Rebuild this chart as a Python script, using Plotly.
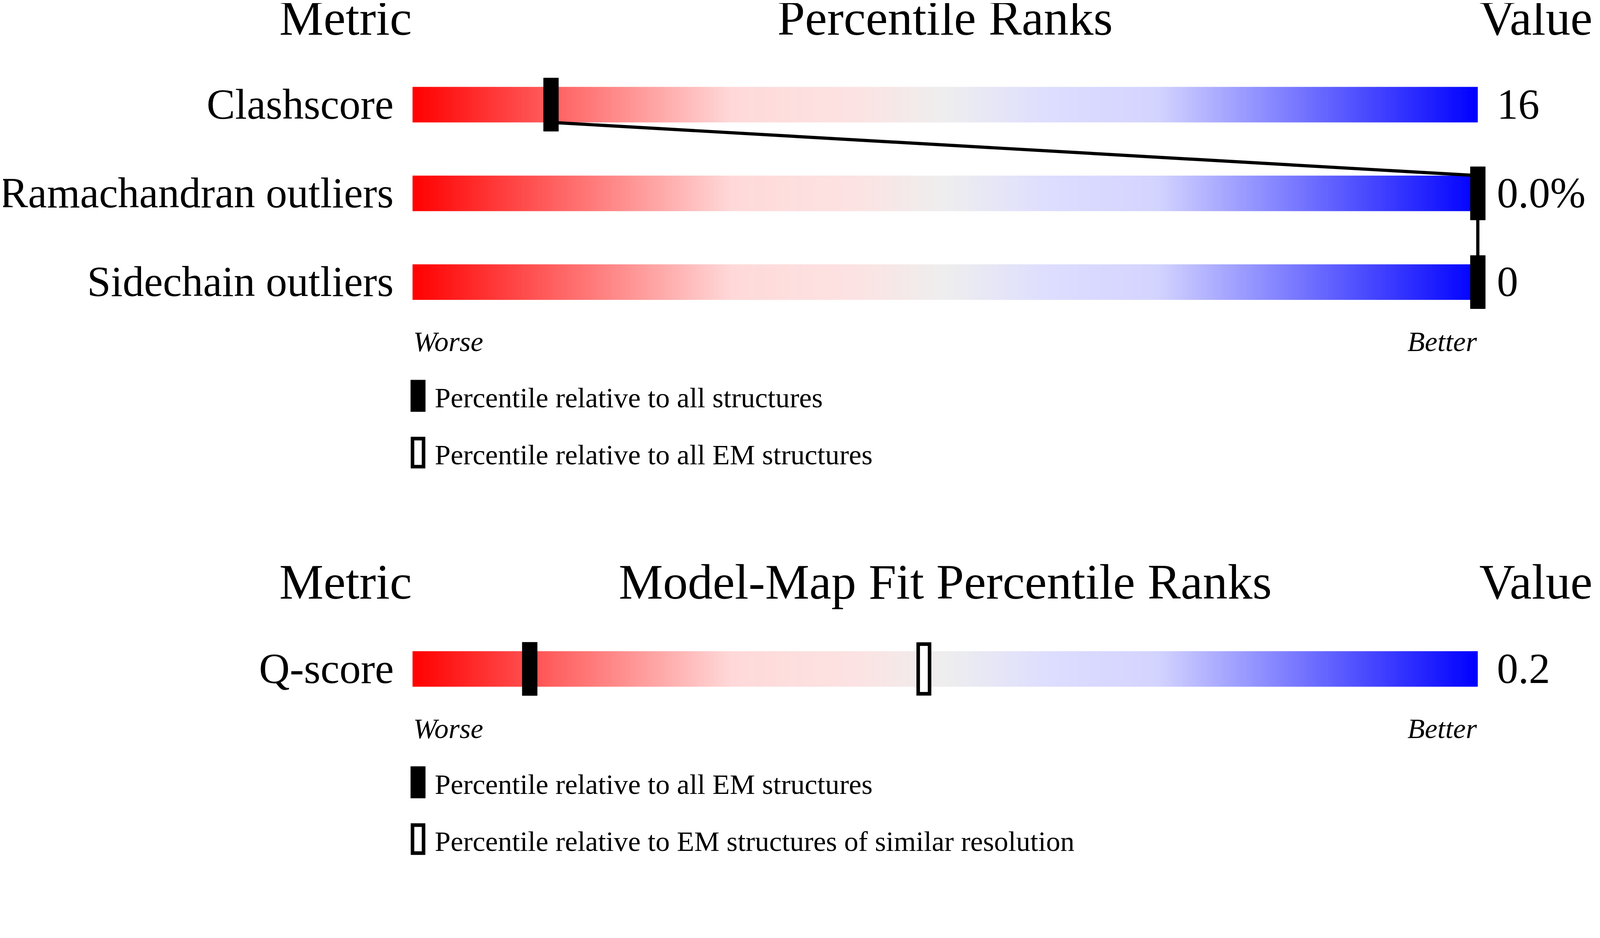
import numpy as np
import plotly.graph_objects as go

# dados
metricas_geral = ["Clashscore", "Ramachandran outliers", "Sidechain outliers"]
valores_geral = ["16", "0.0%", "0"]
pct_todas = [13, 100, 100]

metricas_mapa = ["Q-score"]
valores_mapa = ["0.2"]
pct_em_todas = [11]
pct_em_resolucao = [48]

titulos_geral = ["Metric", "Percentile Ranks", "Value"]
titulos_mapa = ["Metric", "Model-Map Fit Percentile Ranks", "Value"]
extremos = ["Worse", "Better"]
legenda_geral = ["Percentile relative to all structures", "Percentile relative to all EM structures"]
legenda_mapa = ["Percentile relative to all EM structures",
                "Percentile relative to EM structures of similar resolution"]

# escala de cores do gradiente (vermelho -> cinza -> azul)
escala = [
    [0.0, "#FF0000"],
    [0.3, "#FFD9D9"],
    [0.42, "#FCE3E3"],
    [0.5, "#EEEEEE"],
    [0.6, "#DDDDFF"],
    [0.7, "#D3D3FF"],
    [1.0, "#0000FF"],
]

FONTE = "Liberation Serif"
W, H = 4485, 2402    # tamanho da imagem final
S = 1 / 1.1          # fator entre pixels da imagem e pixels css
PX = 30.0            # pixels por ponto percentual
X0 = 1153            # pixel onde fica o percentil 0
ALT_BARRA = 100
ALT_MARCA = 150
LARG_MARCA = 1.4     # em unidades de percentil
K_BASE = 0.42        # distancia centro -> linha de base (em fracao da fonte)

fig = go.Figure()
anotacoes = []
formas = []


def texto(x, base, s, tam, ancora="left", italico=False):
    anotacoes.append(dict(
        x=x, y=base - K_BASE * tam, xref="x", yref="y", text=s, showarrow=False,
        xanchor=ancora, yanchor="middle",
        font=dict(family=FONTE, size=tam * S, color="black", style="italic" if italico else "normal"),
    ))


def marca(p, centro, vazia=False):
    borda = 10 / PX / 2
    if vazia:
        formas.append(dict(type="rect", xref="x", yref="y",
                           x0=p - LARG_MARCA / 2 + borda, x1=p + LARG_MARCA / 2 - borda,
                           y0=centro - ALT_MARCA / 2 + 5, y1=centro + ALT_MARCA / 2 - 5,
                           fillcolor="white", line=dict(color="black", width=10 * S)))
    else:
        formas.append(dict(type="rect", xref="x", yref="y",
                           x0=p - LARG_MARCA / 2, x1=p + LARG_MARCA / 2,
                           y0=centro - ALT_MARCA / 2, y1=centro + ALT_MARCA / 2,
                           fillcolor="black", line=dict(color="black", width=1)))


def barra(centro):
    bordas = np.linspace(0, 100, 1001)
    meio = (bordas[:-1] + bordas[1:]) / 2
    fig.add_trace(go.Heatmap(
        x=bordas, y=[centro - ALT_BARRA / 2, centro + ALT_BARRA / 2], z=[meio],
        colorscale=escala, zmin=0, zmax=100, showscale=False, hoverinfo="skip",
    ))


def cabecalho(base, titulos):
    texto(0, base, titulos[0], 140, "right")
    texto(50, base, titulos[1], 140, "center")
    texto(100.07, base, titulos[2], 140, "left")


def legenda(topo, itens):
    borda = 10 / PX / 2
    for i, s in enumerate(itens):
        y0 = topo + i * 160
        if i == 0:
            formas.append(dict(type="rect", xref="x", yref="y", x0=-0.17, x1=1.2,
                               y0=y0, y1=y0 + 89, fillcolor="black", line=dict(color="black", width=1)))
        else:
            formas.append(dict(type="rect", xref="x", yref="y", x0=-0.17 + borda, x1=1.2 - borda,
                               y0=y0 + 5, y1=y0 + 84, fillcolor="white",
                               line=dict(color="black", width=10 * S)))
        texto(2.03, y0 + 84, s, 80)


# ---- painel 1: qualidade geral ----
cabecalho(101, titulos_geral)
centros = [286 + 250 * i for i in range(len(metricas_geral))]
for c in centros:
    barra(c)

# linha ligando as marcas
lx, ly = [], []
for i, (p, c) in enumerate(zip(pct_todas, centros)):
    if i > 0:
        lx.append(p); ly.append(c - ALT_BARRA / 2)
    if i < len(centros) - 1:
        lx.append(p); ly.append(c + ALT_BARRA / 2)
fig.add_trace(go.Scatter(x=lx, y=ly, mode="lines", line=dict(color="black", width=9 * S), hoverinfo="skip"))

for nome, val, p, c in zip(metricas_geral, valores_geral, pct_todas, centros):
    marca(p, c)
    texto(-1.7, c + 50, nome, 120, "right")
    texto(101.73, c + 50, val, 120, "left")

texto(0, 987, extremos[0], 80, "left", True)
texto(100, 987, extremos[1], 80, "right", True)
legenda(1062, legenda_geral)

# ---- painel 2: ajuste modelo-mapa ----
cabecalho(1690, titulos_mapa)
centro_q = [1876 + 250 * i for i in range(len(metricas_mapa))]
for nome, val, p1, p2, c in zip(metricas_mapa, valores_mapa, pct_em_todas, pct_em_resolucao, centro_q):
    barra(c)
    marca(p1, c)
    marca(p2, c, vazia=True)
    texto(-1.7, c + 50, nome, 120, "right")
    texto(101.73, c + 50, val, 120, "left")

texto(0, 2077, extremos[0], 80, "left", True)
texto(100, 2077, extremos[1], 80, "right", True)
legenda(2151, legenda_mapa)

fig.update_layout(
    width=int(W * S), height=int(H * S),
    margin=dict(l=0, r=0, t=0, b=0),
    paper_bgcolor="white", plot_bgcolor="white",
    showlegend=False,
    xaxis=dict(range=[-X0 / PX, (W - X0) / PX], visible=False, fixedrange=True),
    yaxis=dict(range=[H, 0], visible=False, fixedrange=True),
    annotations=anotacoes,
    shapes=formas,
)

fig.write_html("out.html")
